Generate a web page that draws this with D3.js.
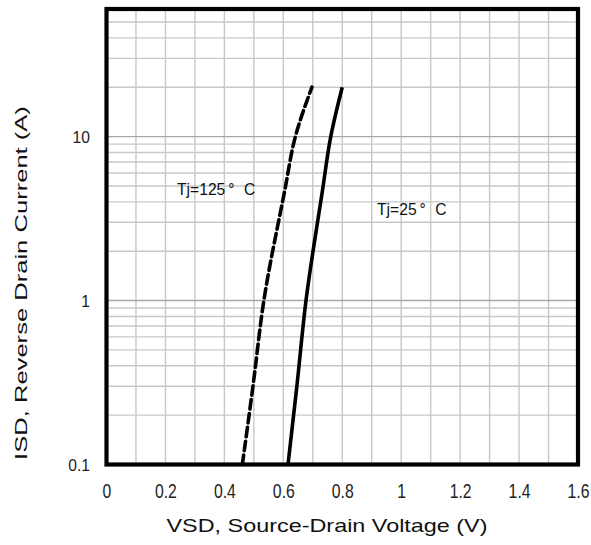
<!DOCTYPE html>
<html>
<head>
<meta charset="utf-8">
<script src="https://cdn.jsdelivr.net/npm/d3@7/dist/d3.min.js"></script>
<style>
  html, body { margin: 0; padding: 0; background: #fff; }
  svg { display: block; }
  text { white-space: pre; }
</style>
</head>
<body>
<svg id="chart" width="591" height="545"></svg>
<script>
// ---- data ----
const xTickValues = [0, 0.2, 0.4, 0.6, 0.8, 1.0, 1.2, 1.4, 1.6];
const xTickLabels = ["0", "0.2", "0.4", "0.6", "0.8", "1", "1.2", "1.4", "1.6"];
const yTickValues = [0.1, 1, 10];
const yTickLabels = ["0.1", "1", "10"];
const xGrid = [0.1, 0.2, 0.3, 0.4, 0.5, 0.6, 0.7, 0.8, 0.9, 1.0, 1.1, 1.2, 1.3, 1.4, 1.5];
const yGridMinor = [0.2, 0.3, 0.4, 0.5, 0.6, 0.7, 0.8, 0.9, 2, 3, 4, 5, 6, 7, 8, 9, 20, 30, 40, 50];
const yGridMajor = [1, 10];

// Tj = 125 °C (dashed)
const hotVsd = [0.461, 0.497, 0.534, 0.605, 0.641, 0.697];
const hotIsd = [0.1, 0.3, 1, 4.7, 10, 20];
// Tj = 25 °C (solid)
const coldVsd = [0.616, 0.646, 0.677, 0.733, 0.761, 0.800];
const coldIsd = [0.1, 0.3, 1, 4.7, 10, 20];

const seriesLabels = ["Tj=125", "Tj=25"];
const degreeText = "\u00B0";
const unitText = "C";
const xTitle = "VSD, Source-Drain Voltage (V)";
const yTitle = "ISD, Reverse Drain Current (A)";

// ---- layout ----
const svg = d3.select("#chart");
const pL = 106.5, pR = 578, pT = 9, pB = 464.5;

const x = d3.scaleLinear().domain([0, 1.6]).range([pL, pR]);
const y = d3.scaleLog().domain([0.1, 60]).range([pB, pT]);

// grid
const g = svg.append("g");
g.selectAll("line.xg").data(xGrid).enter().append("line")
  .attr("x1", d => x(d)).attr("x2", d => x(d))
  .attr("y1", pT).attr("y2", pB)
  .attr("stroke", "#c8c8c8").attr("stroke-width", 1.4);
g.selectAll("line.ygm").data(yGridMinor).enter().append("line")
  .attr("x1", pL).attr("x2", pR)
  .attr("y1", d => y(d)).attr("y2", d => y(d))
  .attr("stroke", "#c8c8c8").attr("stroke-width", 1.4);
g.selectAll("line.ygM").data(yGridMajor).enter().append("line")
  .attr("x1", pL).attr("x2", pR)
  .attr("y1", d => y(d)).attr("y2", d => y(d))
  .attr("stroke", "#a8a8a8").attr("stroke-width", 1.4);

// curves
const line = d3.line().x(d => x(d[0])).y(d => y(d[1])).curve(d3.curveMonotoneY);
const hot = hotVsd.map((v, i) => [v, hotIsd[i]]);
const cold = coldVsd.map((v, i) => [v, coldIsd[i]]);

svg.append("path").datum(hot).attr("d", line)
  .attr("fill", "none").attr("stroke", "#000").attr("stroke-width", 3.6)
  .attr("stroke-dasharray", "9.5,4.5").attr("stroke-linecap", "round");
svg.append("path").datum(cold).attr("d", line)
  .attr("fill", "none").attr("stroke", "#000").attr("stroke-width", 3.6);

// frame
svg.append("rect").attr("x", pL).attr("y", pT)
  .attr("width", pR - pL).attr("height", pB - pT)
  .attr("fill", "none").attr("stroke", "#000").attr("stroke-width", 4.2);

// axes
const sans = "'Liberation Sans', Arial, sans-serif";
const xAxis = d3.axisBottom(x).tickValues(xTickValues)
  .tickFormat((d, i) => xTickLabels[i]).tickSize(0).tickPadding(0);
const xa = svg.append("g").attr("transform", `translate(0,${pB + 33})`).call(xAxis);
xa.select(".domain").remove();
xa.selectAll("text").attr("font-family", sans).attr("font-size", 21)
  .attr("fill", "#222").attr("dy", 0).attr("y", 0)
  .attr("transform", "scale(0.75,1)");

const yAxis = d3.axisLeft(y).tickValues(yTickValues)
  .tickFormat((d, i) => yTickLabels[i]).tickSize(0).tickPadding(0);
const ya = svg.append("g").attr("transform", `translate(90,0)`).call(yAxis);
ya.select(".domain").remove();
ya.selectAll("text").attr("font-family", sans).attr("font-size", 17)
  .attr("fill", "#222").attr("dy", "0.35em").attr("x", 0)
  .attr("transform", "scale(0.92,1)");

// titles
svg.append("text").attr("transform", "translate(327,532) scale(1.3,1)")
  .attr("text-anchor", "middle").attr("font-family", sans)
  .attr("font-size", 18).attr("fill", "#111").text(xTitle);
svg.append("text").attr("transform", "translate(27,283) rotate(-90) scale(1.55,1)")
  .attr("text-anchor", "middle").attr("font-family", sans)
  .attr("font-size", 16.5).attr("fill", "#111").text(yTitle);

// annotations
function annot(xp, yp, label) {
  const t = svg.append("text").attr("x", xp).attr("y", yp)
    .attr("font-family", sans).attr("font-size", 16.5).attr("fill", "#111")
    .attr("transform", `translate(${xp},0) scale(0.95,1) translate(${-xp},0)`);
  t.append("tspan").text(label);
  t.append("tspan").attr("dx", 3).text(degreeText);
  t.append("tspan").attr("dx", 10).text(unitText);
}
annot(177, 195, seriesLabels[0]);
annot(377, 215, seriesLabels[1]);
</script>
</body>
</html>
